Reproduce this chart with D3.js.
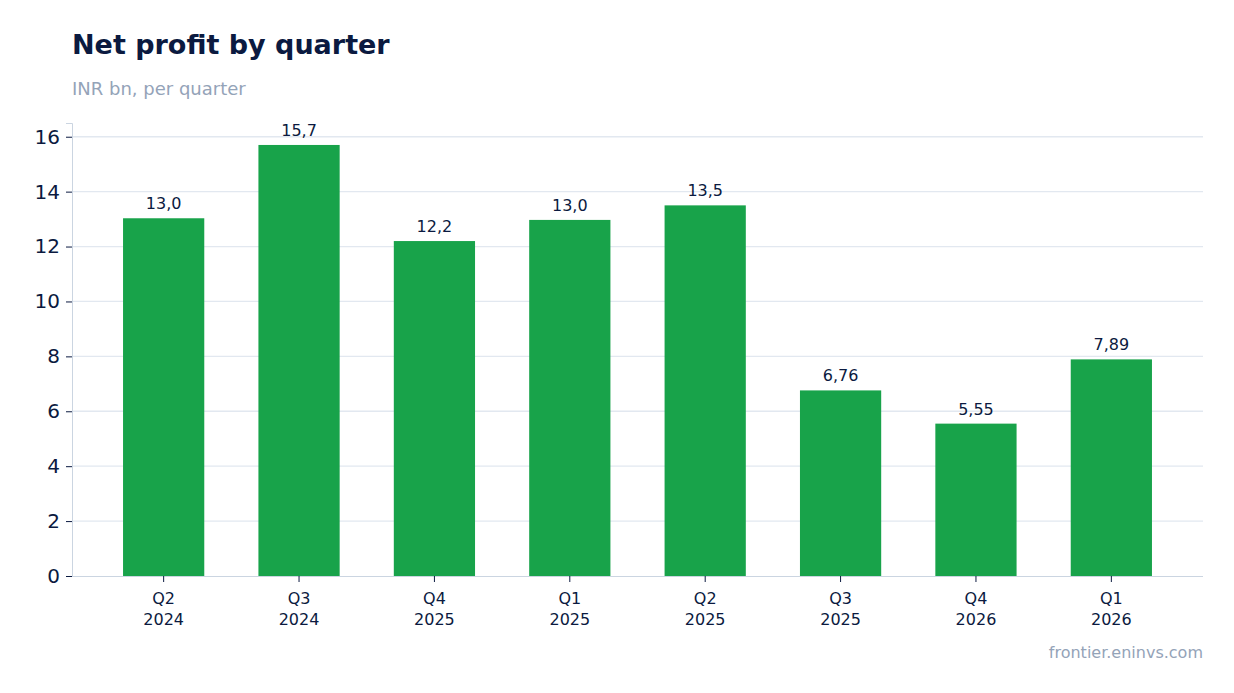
<!DOCTYPE html>
<html><head><meta charset="utf-8">
<script src="https://cdn.jsdelivr.net/npm/d3@7"></script>
<style>body{margin:0;background:#fff;font-family:"DejaVu Sans",sans-serif}</style>
</head><body><svg id="c" width="1234" height="693"></svg>
<script>
const quarters = ["Q2","Q3","Q4","Q1","Q2","Q3","Q4","Q1"];
const years = ["2024","2024","2025","2025","2025","2025","2026","2026"];
const values = [13.03, 15.7, 12.2, 12.97, 13.5, 6.76, 5.55, 7.89];
const yTicks = [0,2,4,6,8,10,12,14,16];

const svg = d3.select("#c");
const L=72,R=1203,T=123,B=576;
const cats = quarters.map((q,i)=>i);
const x = d3.scaleBand().domain(cats).range([L,R]).paddingInner(0.4).paddingOuter(0.377);
const y = d3.scaleLinear().domain([0,16.5]).range([B,T]);

svg.append("text").attr("x",72).attr("y",54).attr("font-size",27).attr("font-weight","bold").attr("fill","#0b1a40").text("Net profit by quarter");
svg.append("text").attr("x",72).attr("y",95).attr("font-size",18).attr("fill","#94a3b8").text("INR bn, per quarter");
svg.append("text").attr("x",1203).attr("y",658).attr("text-anchor","end").attr("font-size",16).attr("fill","#94a3b8").text("frontier.eninvs.com");

svg.append("g").selectAll("line").data(yTicks.filter(d=>d>0)).join("line")
 .attr("x1",L).attr("x2",R).attr("y1",d=>y(d)).attr("y2",d=>y(d)).attr("stroke","#e2e8f0").attr("stroke-width",1.3);

svg.append("g").selectAll("rect").data(values).join("rect")
 .attr("x",(d,i)=>x(i)).attr("width",x.bandwidth()).attr("y",d=>y(d)).attr("height",d=>B-y(d)).attr("fill","#18a34a");

const fmt = v => d3.format(".3")(v).replace(".",",");
const lab = v => { let s=d3.format(".3g")(v); if(!s.includes(".")&&v<100) s=v.toFixed(1); return s.replace(".",","); };
svg.append("g").selectAll("text").data(values).join("text")
 .attr("x",(d,i)=>x(i)+x.bandwidth()/2).attr("y",d=>y(d)-9).attr("text-anchor","middle")
 .attr("font-size",16).attr("fill","#0b1a40").text(d=>lab(d));

const ya = svg.append("g").attr("transform",`translate(${L},0)`).call(d3.axisLeft(y).tickValues(yTicks).tickSize(6).tickPadding(6));
ya.select(".domain").attr("stroke","#cbd5e1");
ya.selectAll(".tick line").attr("stroke","#0b1a40");
ya.selectAll("text").attr("font-size",20).attr("fill","#0b1a40").attr("font-family","DejaVu Sans");

const xa = svg.append("g").attr("transform",`translate(0,${B})`).call(d3.axisBottom(x).tickSize(6).tickFormat(()=>""));
xa.select(".domain").attr("stroke","#cbd5e1").attr("d",`M${L},0.5H${R}`);
xa.selectAll(".tick line").attr("stroke","#0b1a40");
xa.selectAll(".tick").each(function(d){
  const t=d3.select(this).append("text").attr("fill","#0b1a40").attr("font-size",16).attr("text-anchor","middle").attr("font-family","DejaVu Sans");
  t.append("tspan").attr("x",0).attr("y",28).text(quarters[d]);
  t.append("tspan").attr("x",0).attr("y",49).text(years[d]);
});
</script></body></html>
